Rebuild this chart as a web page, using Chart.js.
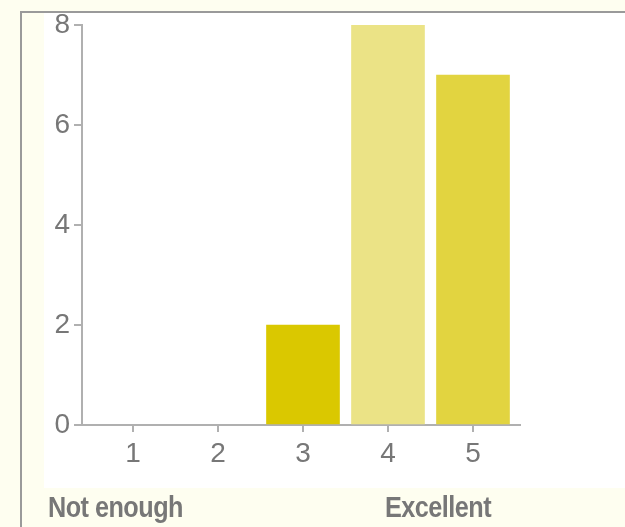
<!DOCTYPE html>
<html lang="en">
<head>
  <meta charset="UTF-8">
  <title>Rating chart</title>
  <style>
    body { margin: 0; padding: 0; background: #fefef0; width: 625px; height: 527px; overflow: hidden; position: relative; font-family: "Liberation Sans", Arial, sans-serif; }
    .frame { position: absolute; left: 20px; top: 11px; width: 605px; height: 516px; border-left: 2px solid #9a9a9a; border-top: 2px solid #9a9a9a; box-sizing: border-box; }
    .plotbg { position: absolute; left: 44px; top: 13px; width: 581px; height: 475px; background: #fff; }
    canvas { position: absolute; left: 0; top: 0; }
    .lbl { position: absolute; top: 493px; font-family: "Liberation Sans", Arial, sans-serif; font-weight: bold; font-size: 29px; line-height: 29px; color: #777; letter-spacing: -0.6px; transform: scaleX(0.87); transform-origin: left top; white-space: nowrap; }
  </style>
  <script src="https://cdn.jsdelivr.net/npm/chart.js"></script>
</head>
<body>
  <div class="frame"></div>
  <div class="plotbg"></div>
  <canvas id="chart" width="625" height="527"></canvas>
  <div class="lbl" style="left:48px">Not enough</div>
  <div class="lbl" style="left:385px">Excellent</div>

  <script>
    // data
    const categories = ['1', '2', '3', '4', '5'];
    const counts = [0, 0, 2, 8, 7];
    const barColors = ['#dac800', '#dac800', '#dac800', '#ebe386', '#e2d440'];
    const yTicks = [0, 2, 4, 6, 8];

    const grey = '#777';
    const axisGrey = '#b0b0b0';
    const tickFont = { family: '"Liberation Sans", Arial, sans-serif', size: 28 };

    const ctx = document.getElementById('chart').getContext('2d');
    new Chart(ctx, {
      type: 'bar',
      data: {
        datasets: [{
          data: categories.map((c, i) => ({ x: i + 1, y: counts[i] })),
          // empty bars shouldn't leave a sliver on the axis
          backgroundColor: c => c.raw && c.raw.y === 0 ? 'rgba(0,0,0,0)' : barColors[c.dataIndex],
          borderWidth: 0,
          barThickness: 73
        }]
      },
      options: {
        responsive: false,
        animation: false,
        layout: { padding: { left: 0, right: 105, top: 25, bottom: 0 } },
        plugins: { legend: { display: false }, tooltip: { enabled: false } },
        scales: {
          x: {
            type: 'linear',
            min: 0.4,
            max: 5.553,
            offset: false,
            afterBuildTicks: s => { s.ticks = categories.map((c, i) => ({ value: i + 1 })); },
            afterFit: s => { s.height = 102; },
            ticks: { color: grey, font: tickFont, padding: 5, callback: v => categories[v - 1] },
            grid: { offset: false, drawOnChartArea: false, drawTicks: true, tickLength: 7, color: axisGrey, lineWidth: 2 },
            border: { color: axisGrey, width: 2 }
          },
          y: {
            min: 0,
            max: 8,
            afterBuildTicks: s => { s.ticks = yTicks.map(v => ({ value: v })); },
            afterFit: s => { s.width = 82; },
            ticks: { color: grey, font: tickFont, padding: 4 },
            grid: { drawOnChartArea: false, drawTicks: true, tickLength: 8, color: axisGrey, lineWidth: 2 },
            border: { color: axisGrey, width: 2 }
          }
        }
      }
    });
  </script>
</body>
</html>
